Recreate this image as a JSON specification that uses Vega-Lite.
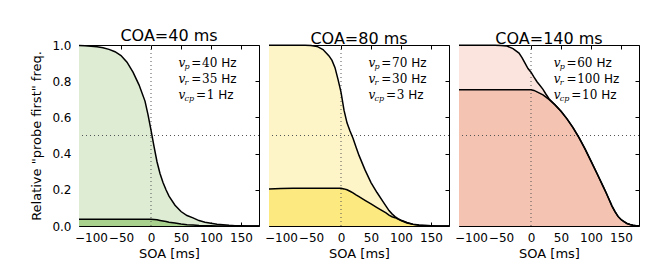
{
  "$schema": "https://vega.github.io/schema/vega-lite/v6.json",
  "padding": {"left": 30, "top": 27, "right": 5, "bottom": 0},
  "spacing": 10,
  "bounds": "flush",
  "datasets": {
    "c40": [
      {"x": -120, "outer": 0.997, "inner": 0.037}, {"x": -110, "outer": 0.996, "inner": 0.037},
      {"x": -100, "outer": 0.993, "inner": 0.037}, {"x": -90, "outer": 0.99, "inner": 0.037},
      {"x": -80, "outer": 0.985, "inner": 0.037}, {"x": -70, "outer": 0.976, "inner": 0.037},
      {"x": -60, "outer": 0.963, "inner": 0.037}, {"x": -50, "outer": 0.942, "inner": 0.037},
      {"x": -40, "outer": 0.905, "inner": 0.037}, {"x": -30, "outer": 0.85, "inner": 0.037},
      {"x": -20, "outer": 0.78, "inner": 0.037}, {"x": -10, "outer": 0.69, "inner": 0.037},
      {"x": -5, "outer": 0.615, "inner": 0.037}, {"x": 0, "outer": 0.53, "inner": 0.037},
      {"x": 5, "outer": 0.44, "inner": 0.036}, {"x": 10, "outer": 0.355, "inner": 0.034},
      {"x": 15, "outer": 0.29, "inner": 0.031}, {"x": 20, "outer": 0.24, "inner": 0.028},
      {"x": 25, "outer": 0.2, "inner": 0.025}, {"x": 30, "outer": 0.165, "inner": 0.021},
      {"x": 40, "outer": 0.115, "inner": 0.016}, {"x": 50, "outer": 0.08, "inner": 0.011},
      {"x": 60, "outer": 0.058, "inner": 0.007}, {"x": 70, "outer": 0.045, "inner": 0.005},
      {"x": 80, "outer": 0.03, "inner": 0.003}, {"x": 90, "outer": 0.021, "inner": 0.002},
      {"x": 100, "outer": 0.015, "inner": 0.001}, {"x": 110, "outer": 0.01, "inner": 0},
      {"x": 120, "outer": 0.007, "inner": 0}, {"x": 130, "outer": 0.004, "inner": 0},
      {"x": 140, "outer": 0.002, "inner": 0}, {"x": 150, "outer": 0.001, "inner": 0},
      {"x": 160, "outer": 0, "inner": 0}, {"x": 170, "outer": 0, "inner": 0},
      {"x": 180, "outer": 0, "inner": 0}
    ],
    "c80": [
      {"x": -120, "outer": 0.999, "inner": 0.205}, {"x": -100, "outer": 0.999, "inner": 0.207},
      {"x": -80, "outer": 0.999, "inner": 0.208}, {"x": -60, "outer": 0.999, "inner": 0.208},
      {"x": -50, "outer": 0.997, "inner": 0.209}, {"x": -40, "outer": 0.992, "inner": 0.209},
      {"x": -30, "outer": 0.975, "inner": 0.209}, {"x": -20, "outer": 0.94, "inner": 0.209},
      {"x": -15, "outer": 0.915, "inner": 0.209}, {"x": -10, "outer": 0.875, "inner": 0.209},
      {"x": -5, "outer": 0.81, "inner": 0.209}, {"x": 0, "outer": 0.74, "inner": 0.208},
      {"x": 5, "outer": 0.64, "inner": 0.205}, {"x": 10, "outer": 0.57, "inner": 0.2},
      {"x": 15, "outer": 0.525, "inner": 0.192}, {"x": 20, "outer": 0.485, "inner": 0.183},
      {"x": 25, "outer": 0.437, "inner": 0.172}, {"x": 30, "outer": 0.39, "inner": 0.162},
      {"x": 40, "outer": 0.31, "inner": 0.142}, {"x": 50, "outer": 0.24, "inner": 0.122},
      {"x": 60, "outer": 0.185, "inner": 0.102}, {"x": 70, "outer": 0.135, "inner": 0.082},
      {"x": 75, "outer": 0.11, "inner": 0.072}, {"x": 80, "outer": 0.085, "inner": 0.06},
      {"x": 85, "outer": 0.067, "inner": 0.051}, {"x": 90, "outer": 0.052, "inner": 0.046},
      {"x": 95, "outer": 0.041, "inner": 0.038}, {"x": 100, "outer": 0.032, "inner": 0.03},
      {"x": 110, "outer": 0.019, "inner": 0.017}, {"x": 120, "outer": 0.01, "inner": 0.009},
      {"x": 130, "outer": 0.005, "inner": 0.0045}, {"x": 140, "outer": 0.003, "inner": 0.0025},
      {"x": 150, "outer": 0.001, "inner": 0.001}, {"x": 160, "outer": 0, "inner": 0},
      {"x": 170, "outer": 0, "inner": 0}, {"x": 180, "outer": 0, "inner": 0}
    ],
    "c140": [
      {"x": -120, "outer": 0.999, "inner": 0.753}, {"x": -100, "outer": 0.999, "inner": 0.753},
      {"x": -80, "outer": 0.999, "inner": 0.753}, {"x": -60, "outer": 0.999, "inner": 0.753},
      {"x": -50, "outer": 0.997, "inner": 0.753}, {"x": -40, "outer": 0.994, "inner": 0.753},
      {"x": -30, "outer": 0.98, "inner": 0.753}, {"x": -20, "outer": 0.955, "inner": 0.753},
      {"x": -15, "outer": 0.93, "inner": 0.753}, {"x": -10, "outer": 0.9, "inner": 0.753},
      {"x": -5, "outer": 0.87, "inner": 0.753}, {"x": 0, "outer": 0.85, "inner": 0.753},
      {"x": 5, "outer": 0.822, "inner": 0.749}, {"x": 10, "outer": 0.797, "inner": 0.741},
      {"x": 15, "outer": 0.776, "inner": 0.733}, {"x": 20, "outer": 0.755, "inner": 0.724},
      {"x": 25, "outer": 0.728, "inner": 0.712}, {"x": 30, "outer": 0.703, "inner": 0.699},
      {"x": 40, "outer": 0.67, "inner": 0.669}, {"x": 50, "outer": 0.634, "inner": 0.634},
      {"x": 60, "outer": 0.592, "inner": 0.592}, {"x": 70, "outer": 0.544, "inner": 0.544},
      {"x": 80, "outer": 0.488, "inner": 0.488}, {"x": 90, "outer": 0.426, "inner": 0.426},
      {"x": 100, "outer": 0.358, "inner": 0.358}, {"x": 110, "outer": 0.29, "inner": 0.29},
      {"x": 120, "outer": 0.22, "inner": 0.22}, {"x": 125, "outer": 0.185, "inner": 0.185},
      {"x": 130, "outer": 0.148, "inner": 0.148}, {"x": 135, "outer": 0.11, "inner": 0.11},
      {"x": 140, "outer": 0.08, "inner": 0.08}, {"x": 145, "outer": 0.053, "inner": 0.053},
      {"x": 150, "outer": 0.036, "inner": 0.036}, {"x": 155, "outer": 0.024, "inner": 0.024},
      {"x": 160, "outer": 0.014, "inner": 0.014}, {"x": 165, "outer": 0.008, "inner": 0.008},
      {"x": 170, "outer": 0.004, "inner": 0.004}, {"x": 175, "outer": 0.002, "inner": 0.002},
      {"x": 180, "outer": 0.001, "inner": 0.001}
    ],
    "t40": [
      {"x": 46, "y": 0.9, "kind": "v", "t": "v"}, {"x": 56, "y": 0.9, "kind": "s", "t": "p"},
      {"x": 67, "y": 0.9, "kind": "m", "t": "="}, {"x": 85, "y": 0.9, "kind": "m", "t": "40"},
      {"x": 117, "y": 0.9, "kind": "h", "t": "Hz"},
      {"x": 46, "y": 0.812, "kind": "v", "t": "v"}, {"x": 56, "y": 0.812, "kind": "s", "t": "r"},
      {"x": 67, "y": 0.812, "kind": "m", "t": "="}, {"x": 85, "y": 0.812, "kind": "m", "t": "35"},
      {"x": 117, "y": 0.812, "kind": "h", "t": "Hz"},
      {"x": 46, "y": 0.724, "kind": "v", "t": "v"}, {"x": 56, "y": 0.724, "kind": "s", "t": "cp"},
      {"x": 75, "y": 0.724, "kind": "m", "t": "="}, {"x": 93, "y": 0.724, "kind": "m", "t": "1"},
      {"x": 112, "y": 0.724, "kind": "h", "t": "Hz"}
    ],
    "t80": [
      {"x": 46, "y": 0.9, "kind": "v", "t": "v"}, {"x": 56, "y": 0.9, "kind": "s", "t": "p"},
      {"x": 67, "y": 0.9, "kind": "m", "t": "="}, {"x": 85, "y": 0.9, "kind": "m", "t": "70"},
      {"x": 117, "y": 0.9, "kind": "h", "t": "Hz"},
      {"x": 46, "y": 0.812, "kind": "v", "t": "v"}, {"x": 56, "y": 0.812, "kind": "s", "t": "r"},
      {"x": 67, "y": 0.812, "kind": "m", "t": "="}, {"x": 85, "y": 0.812, "kind": "m", "t": "30"},
      {"x": 117, "y": 0.812, "kind": "h", "t": "Hz"},
      {"x": 46, "y": 0.724, "kind": "v", "t": "v"}, {"x": 56, "y": 0.724, "kind": "s", "t": "cp"},
      {"x": 75, "y": 0.724, "kind": "m", "t": "="}, {"x": 93, "y": 0.724, "kind": "m", "t": "3"},
      {"x": 112, "y": 0.724, "kind": "h", "t": "Hz"}
    ],
    "t140": [
      {"x": 38, "y": 0.9, "kind": "v", "t": "v"}, {"x": 48, "y": 0.9, "kind": "s", "t": "p"},
      {"x": 59, "y": 0.9, "kind": "m", "t": "="}, {"x": 77, "y": 0.9, "kind": "m", "t": "60"},
      {"x": 109, "y": 0.9, "kind": "h", "t": "Hz"},
      {"x": 38, "y": 0.812, "kind": "v", "t": "v"}, {"x": 48, "y": 0.812, "kind": "s", "t": "r"},
      {"x": 59, "y": 0.812, "kind": "m", "t": "="}, {"x": 77, "y": 0.812, "kind": "m", "t": "100"},
      {"x": 121.7, "y": 0.812, "kind": "h", "t": "Hz"},
      {"x": 38, "y": 0.724, "kind": "v", "t": "v"}, {"x": 48, "y": 0.724, "kind": "s", "t": "cp"},
      {"x": 67, "y": 0.724, "kind": "m", "t": "="}, {"x": 85, "y": 0.724, "kind": "m", "t": "10"},
      {"x": 117, "y": 0.724, "kind": "h", "t": "Hz"}
    ],
    "zero": [{"v": 0}]
  },
  "hconcat": [
    {
      "width": 180, "height": 181,
      "title": "COA=40 ms",
      "data": {"name": "c40"},
      "resolve": {"axis": {"x": "independent", "y": "independent"}},
      "layer": [
        {"mark": {"type": "area", "color": "#ddecd2"},
         "encoding": {
           "x": {"field": "x", "type": "quantitative", "scale": {"domain": [-120, 180], "nice": false},
                 "axis": {"orient": "bottom", "values": [-100, -50, 0, 50, 100, 150], "title": "SOA [ms]", "labelPadding": 10, "titlePadding": 4}},
           "y": {"field": "outer", "type": "quantitative", "scale": {"domain": [0, 1], "nice": false},
                 "axis": {"orient": "left", "values": [0, 0.2, 0.4, 0.6, 0.8, 1.0], "format": ".1f", "title": "Relative \"probe first\" freq.", "labelPadding": 12, "titlePadding": 8}}}},
        {"mark": {"type": "area", "color": "#a9d18e"},
         "encoding": {"x": {"field": "x", "type": "quantitative", "axis": null}, "y": {"field": "inner", "type": "quantitative", "axis": null}}},
        {"data": {"name": "zero"}, "mark": {"type": "rule", "color": "#555", "strokeDash": [1, 3], "strokeWidth": 1},
         "encoding": {"x": {"datum": 0, "type": "quantitative", "axis": null}}},
        {"data": {"name": "zero"}, "mark": {"type": "rule", "color": "#555", "strokeDash": [1, 3], "strokeWidth": 1},
         "encoding": {"y": {"datum": 0.5, "type": "quantitative", "axis": null}}},
        {"mark": {"type": "line", "color": "black", "strokeWidth": 1.5},
         "encoding": {"x": {"field": "x", "type": "quantitative", "axis": {"orient": "top", "values": [-100, -50, 0, 50, 100, 150], "labels": false, "title": null, "maxExtent": 0}},
                      "y": {"field": "outer", "type": "quantitative", "axis": {"orient": "right", "values": [0, 0.2, 0.4, 0.6, 0.8, 1.0], "labels": false, "title": null, "maxExtent": 0}}}},
        {"mark": {"type": "line", "color": "black", "strokeWidth": 1.5},
         "encoding": {"x": {"field": "x", "type": "quantitative", "axis": null}, "y": {"field": "inner", "type": "quantitative", "axis": null}}},
        {"data": {"name": "t40"}, "transform": [{"filter": "datum.kind == 'v'"}],
         "mark": {"type": "text", "align": "left", "baseline": "middle", "font": "DejaVu Serif", "fontStyle": "italic", "fontSize": 12},
         "encoding": {"x": {"field": "x", "type": "quantitative", "axis": null}, "y": {"field": "y", "type": "quantitative", "axis": null}, "text": {"field": "t"}}},
        {"data": {"name": "t40"}, "transform": [{"filter": "datum.kind == 's'"}],
         "mark": {"type": "text", "align": "left", "baseline": "middle", "font": "DejaVu Serif", "fontStyle": "italic", "fontSize": 8, "dy": 4},
         "encoding": {"x": {"field": "x", "type": "quantitative", "axis": null}, "y": {"field": "y", "type": "quantitative", "axis": null}, "text": {"field": "t"}}},
        {"data": {"name": "t40"}, "transform": [{"filter": "datum.kind == 'm'"}],
         "mark": {"type": "text", "align": "left", "baseline": "middle", "font": "DejaVu Serif", "fontSize": 12},
         "encoding": {"x": {"field": "x", "type": "quantitative", "axis": null}, "y": {"field": "y", "type": "quantitative", "axis": null}, "text": {"field": "t"}}},
        {"data": {"name": "t40"}, "transform": [{"filter": "datum.kind == 'h'"}],
         "mark": {"type": "text", "align": "left", "baseline": "middle", "font": "DejaVu Sans", "fontSize": 12},
         "encoding": {"x": {"field": "x", "type": "quantitative", "axis": null}, "y": {"field": "y", "type": "quantitative", "axis": null}, "text": {"field": "t"}}}
      ]
    },
    {
      "width": 180, "height": 181,
      "title": "COA=80 ms",
      "data": {"name": "c80"},
      "resolve": {"axis": {"x": "independent", "y": "independent"}},
      "layer": [
        {"mark": {"type": "area", "color": "#fdf5c7"},
         "encoding": {
           "x": {"field": "x", "type": "quantitative", "scale": {"domain": [-120, 180], "nice": false},
                 "axis": {"orient": "bottom", "values": [-100, -50, 0, 50, 100, 150], "title": "SOA [ms]", "labelPadding": 10, "titlePadding": 4}},
           "y": {"field": "outer", "type": "quantitative", "scale": {"domain": [0, 1], "nice": false},
                 "axis": {"orient": "left", "values": [0, 0.2, 0.4, 0.6, 0.8, 1.0], "labels": false, "title": null, "maxExtent": 0}}}},
        {"mark": {"type": "area", "color": "#fce980"},
         "encoding": {"x": {"field": "x", "type": "quantitative", "axis": null}, "y": {"field": "inner", "type": "quantitative", "axis": null}}},
        {"data": {"name": "zero"}, "mark": {"type": "rule", "color": "#555", "strokeDash": [1, 3], "strokeWidth": 1},
         "encoding": {"x": {"datum": 0, "type": "quantitative", "axis": null}}},
        {"data": {"name": "zero"}, "mark": {"type": "rule", "color": "#555", "strokeDash": [1, 3], "strokeWidth": 1},
         "encoding": {"y": {"datum": 0.5, "type": "quantitative", "axis": null}}},
        {"mark": {"type": "line", "color": "black", "strokeWidth": 1.5},
         "encoding": {"x": {"field": "x", "type": "quantitative", "axis": {"orient": "top", "values": [-100, -50, 0, 50, 100, 150], "labels": false, "title": null, "maxExtent": 0}},
                      "y": {"field": "outer", "type": "quantitative", "axis": {"orient": "right", "values": [0, 0.2, 0.4, 0.6, 0.8, 1.0], "labels": false, "title": null, "maxExtent": 0}}}},
        {"mark": {"type": "line", "color": "black", "strokeWidth": 1.5},
         "encoding": {"x": {"field": "x", "type": "quantitative", "axis": null}, "y": {"field": "inner", "type": "quantitative", "axis": null}}},
        {"data": {"name": "t80"}, "transform": [{"filter": "datum.kind == 'v'"}],
         "mark": {"type": "text", "align": "left", "baseline": "middle", "font": "DejaVu Serif", "fontStyle": "italic", "fontSize": 12},
         "encoding": {"x": {"field": "x", "type": "quantitative", "axis": null}, "y": {"field": "y", "type": "quantitative", "axis": null}, "text": {"field": "t"}}},
        {"data": {"name": "t80"}, "transform": [{"filter": "datum.kind == 's'"}],
         "mark": {"type": "text", "align": "left", "baseline": "middle", "font": "DejaVu Serif", "fontStyle": "italic", "fontSize": 8, "dy": 4},
         "encoding": {"x": {"field": "x", "type": "quantitative", "axis": null}, "y": {"field": "y", "type": "quantitative", "axis": null}, "text": {"field": "t"}}},
        {"data": {"name": "t80"}, "transform": [{"filter": "datum.kind == 'm'"}],
         "mark": {"type": "text", "align": "left", "baseline": "middle", "font": "DejaVu Serif", "fontSize": 12},
         "encoding": {"x": {"field": "x", "type": "quantitative", "axis": null}, "y": {"field": "y", "type": "quantitative", "axis": null}, "text": {"field": "t"}}},
        {"data": {"name": "t80"}, "transform": [{"filter": "datum.kind == 'h'"}],
         "mark": {"type": "text", "align": "left", "baseline": "middle", "font": "DejaVu Sans", "fontSize": 12},
         "encoding": {"x": {"field": "x", "type": "quantitative", "axis": null}, "y": {"field": "y", "type": "quantitative", "axis": null}, "text": {"field": "t"}}}
      ]
    },
    {
      "width": 180, "height": 181,
      "title": "COA=140 ms",
      "data": {"name": "c140"},
      "resolve": {"axis": {"x": "independent", "y": "independent"}},
      "layer": [
        {"mark": {"type": "area", "color": "#fbe4dd"},
         "encoding": {
           "x": {"field": "x", "type": "quantitative", "scale": {"domain": [-120, 180], "nice": false},
                 "axis": {"orient": "bottom", "values": [-100, -50, 0, 50, 100, 150], "title": "SOA [ms]", "labelPadding": 10, "titlePadding": 4}},
           "y": {"field": "outer", "type": "quantitative", "scale": {"domain": [0, 1], "nice": false},
                 "axis": {"orient": "left", "values": [0, 0.2, 0.4, 0.6, 0.8, 1.0], "labels": false, "title": null, "maxExtent": 0}}}},
        {"mark": {"type": "area", "color": "#f4c3b2"},
         "encoding": {"x": {"field": "x", "type": "quantitative", "axis": null}, "y": {"field": "inner", "type": "quantitative", "axis": null}}},
        {"data": {"name": "zero"}, "mark": {"type": "rule", "color": "#555", "strokeDash": [1, 3], "strokeWidth": 1},
         "encoding": {"x": {"datum": 0, "type": "quantitative", "axis": null}}},
        {"data": {"name": "zero"}, "mark": {"type": "rule", "color": "#555", "strokeDash": [1, 3], "strokeWidth": 1},
         "encoding": {"y": {"datum": 0.5, "type": "quantitative", "axis": null}}},
        {"mark": {"type": "line", "color": "black", "strokeWidth": 1.5},
         "encoding": {"x": {"field": "x", "type": "quantitative", "axis": {"orient": "top", "values": [-100, -50, 0, 50, 100, 150], "labels": false, "title": null, "maxExtent": 0}},
                      "y": {"field": "outer", "type": "quantitative", "axis": {"orient": "right", "values": [0, 0.2, 0.4, 0.6, 0.8, 1.0], "labels": false, "title": null, "maxExtent": 0}}}},
        {"mark": {"type": "line", "color": "black", "strokeWidth": 1.5},
         "encoding": {"x": {"field": "x", "type": "quantitative", "axis": null}, "y": {"field": "inner", "type": "quantitative", "axis": null}}},
        {"data": {"name": "t140"}, "transform": [{"filter": "datum.kind == 'v'"}],
         "mark": {"type": "text", "align": "left", "baseline": "middle", "font": "DejaVu Serif", "fontStyle": "italic", "fontSize": 12},
         "encoding": {"x": {"field": "x", "type": "quantitative", "axis": null}, "y": {"field": "y", "type": "quantitative", "axis": null}, "text": {"field": "t"}}},
        {"data": {"name": "t140"}, "transform": [{"filter": "datum.kind == 's'"}],
         "mark": {"type": "text", "align": "left", "baseline": "middle", "font": "DejaVu Serif", "fontStyle": "italic", "fontSize": 8, "dy": 4},
         "encoding": {"x": {"field": "x", "type": "quantitative", "axis": null}, "y": {"field": "y", "type": "quantitative", "axis": null}, "text": {"field": "t"}}},
        {"data": {"name": "t140"}, "transform": [{"filter": "datum.kind == 'm'"}],
         "mark": {"type": "text", "align": "left", "baseline": "middle", "font": "DejaVu Serif", "fontSize": 12},
         "encoding": {"x": {"field": "x", "type": "quantitative", "axis": null}, "y": {"field": "y", "type": "quantitative", "axis": null}, "text": {"field": "t"}}},
        {"data": {"name": "t140"}, "transform": [{"filter": "datum.kind == 'h'"}],
         "mark": {"type": "text", "align": "left", "baseline": "middle", "font": "DejaVu Sans", "fontSize": 12},
         "encoding": {"x": {"field": "x", "type": "quantitative", "axis": null}, "y": {"field": "y", "type": "quantitative", "axis": null}, "text": {"field": "t"}}}
      ]
    }
  ],
  "config": {
    "font": "DejaVu Sans",
    "view": {"stroke": "black", "strokeWidth": 1},
    "axis": {"domain": false, "grid": false, "tickColor": "black", "labelColor": "black", "titleColor": "black",
             "labelFont": "DejaVu Sans", "titleFont": "DejaVu Sans", "labelFontSize": 12, "titleFontSize": 13,
             "titleFontWeight": "normal", "tickSize": -4, "minExtent": 0, "labelFlush": false, "labelOverlap": false, "zindex": 1},
    "title": {"font": "DejaVu Sans", "fontSize": 16, "fontWeight": "normal", "offset": -5, "color": "black"}
  }
}
